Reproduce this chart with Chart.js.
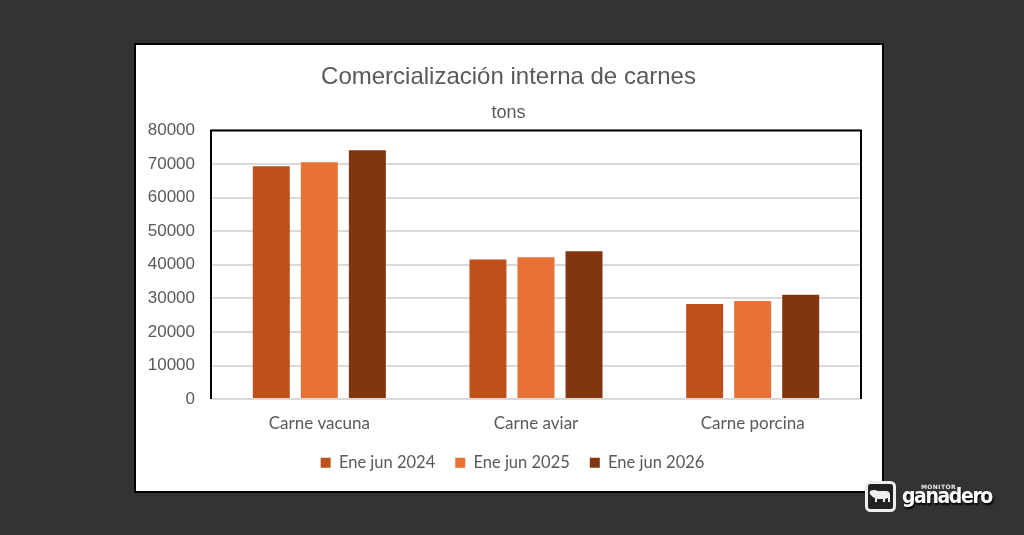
<!DOCTYPE html>
<html>
<head>
<meta charset="utf-8">
<script src="https://cdn.jsdelivr.net/npm/chart.js"></script>
<style>
  html, body { margin: 0; padding: 0; }
  body { width: 1024px; height: 535px; background: #333333; position: relative; overflow: hidden; }
  #box { position: absolute; left: 134px; top: 43px; width: 746px; height: 446px; background: #fff; border: 2px solid #000; }
  #box canvas { display: block; }
  #logo { position: absolute; left: 865px; top: 481px; height: 32px; color: #fff; font-family: "DejaVu Sans", sans-serif; }
  #logo svg { position: absolute; left: 0; top: 0; }
  #logo .small { position: absolute; left: 56px; top: 2px; font-size: 6px; font-weight: bold; letter-spacing: 0.4px; color: #eee; }
  #logo .big { position: absolute; left: 37px; top: 3px; font-size: 21px; font-weight: bold; letter-spacing: -1.4px; text-shadow: 1px 2px 2px #000; font-family: "DejaVu Sans Condensed", "DejaVu Sans", sans-serif; }
</style>
</head>
<body>
<div id="box"><canvas id="chart" width="746" height="446"></canvas></div>
<div id="logo">
  <svg width="31" height="31" viewBox="0 0 31 31">
    <rect x="1.5" y="1.5" width="28" height="28" rx="4" fill="#222" stroke="#eee" stroke-width="3"/>
    <path d="M5 10 Q9 8 13 10 L21 10 Q25 10 25 14 L25 21 L23 21 L23 17 L20 18 L20 21 L18 21 L18 18 L12 18 L12 21 L10 21 L10 17 Q7 16 6 14 Q4 13 5 10 Z" fill="#eee"/>
  </svg>
  <div class="small">MONITOR</div>
  <div class="big">ganadero</div>
</div>
<script>
// Chart data
const categories = ["Carne vacuna", "Carne aviar", "Carne porcina"];
const seriesNames = ["Ene jun 2024", "Ene jun 2025", "Ene jun 2026"];
const ene2024 = [69300, 41600, 28300];
const ene2025 = [70500, 42200, 29200];
const ene2026 = [74100, 44000, 31100];
const colors = ["#C0501A", "#E87233", "#823610"];

const textColor = "#595959";
const legendTrim = 5; // legend keeps wide horizontal spacing but less space above

// Border on top, left and right of the plot area
const plotFrame = {
  id: "plotFrame",
  afterDatasetsDraw(chart) {
    const { ctx, chartArea: a } = chart;
    ctx.save();
    ctx.strokeStyle = "#000";
    ctx.lineWidth = 2;
    ctx.beginPath();
    ctx.moveTo(a.left, a.bottom);
    ctx.lineTo(a.left, a.top);
    ctx.lineTo(a.right, a.top);
    ctx.lineTo(a.right, a.bottom);
    ctx.stroke();
    ctx.restore();
  },
};

// Center title and legend on the whole box, and trim the legend's top gap
const recenter = {
  id: "recenter",
  afterInit(chart) {
    const legend = chart.legend;
    const fit = legend.fit;
    legend.fit = function () {
      fit.call(this);
      this.height -= legendTrim;
    };
  },
  afterLayout(chart) {
    const shift = (box, dx) => { if (box) { box.left += dx; box.right += dx; } };
    shift(chart.titleBlock, 10);
    shift(chart.boxes.find((b) => b.options && b.options.text === "tons"), 10);
    shift(chart.legend, 14);
    chart.legend.top -= legendTrim;
    chart.legend.bottom -= legendTrim;
  },
};

function makeDataset(i, values) {
  return {
    label: seriesNames[i],
    data: values,
    backgroundColor: colors[i],
    borderWidth: 0,
    categoryPercentage: 0.665,
    barPercentage: 0.77,
  };
}

const ctx = document.getElementById("chart").getContext("2d");
new Chart(ctx, {
  type: "bar",
  data: {
    labels: categories,
    datasets: [makeDataset(0, ene2024), makeDataset(1, ene2025), makeDataset(2, ene2026)],
  },
  options: {
    responsive: false,
    animation: false,
    devicePixelRatio: 1,
    layout: { padding: { left: 0, right: 21, top: 18, bottom: 10 } },
    plugins: {
      title: {
        display: true,
        text: "Comercialización interna de carnes",
        color: textColor,
        font: { family: "'Liberation Sans Narrow', 'Liberation Sans', sans-serif", size: 24, weight: "normal" },
        padding: { top: 0, bottom: 10 },
      },
      subtitle: {
        display: true,
        text: "tons",
        color: textColor,
        font: { family: "'Liberation Sans Narrow', 'Liberation Sans', sans-serif", size: 18, weight: "normal" },
        padding: { top: 0, bottom: 7 },
      },
      legend: {
        position: "bottom",
        labels: {
          color: textColor,
          font: { family: "Lato, sans-serif", size: 16.5 },
          boxWidth: 10,
          boxHeight: 10,
          padding: 20,
        },
      },
      tooltip: { enabled: false },
    },
    scales: {
      x: {
        grid: { display: false },
        border: { display: false },
        ticks: { color: textColor, font: { family: "Lato, sans-serif", size: 17 }, padding: 6 },
      },
      y: {
        min: 0,
        max: 80000,
        afterFit(scale) { scale.width = 75; },
        grid: { color: "#d9d9d9", lineWidth: 2, drawTicks: false },
        border: { display: false },
        ticks: {
          stepSize: 10000,
          color: textColor,
          font: { family: "'Liberation Sans', Arial, sans-serif", size: 17 },
          padding: 16,
          callback: (v) => String(v),
        },
      },
    },
  },
  plugins: [plotFrame, recenter],
});
</script>
</body>
</html>
